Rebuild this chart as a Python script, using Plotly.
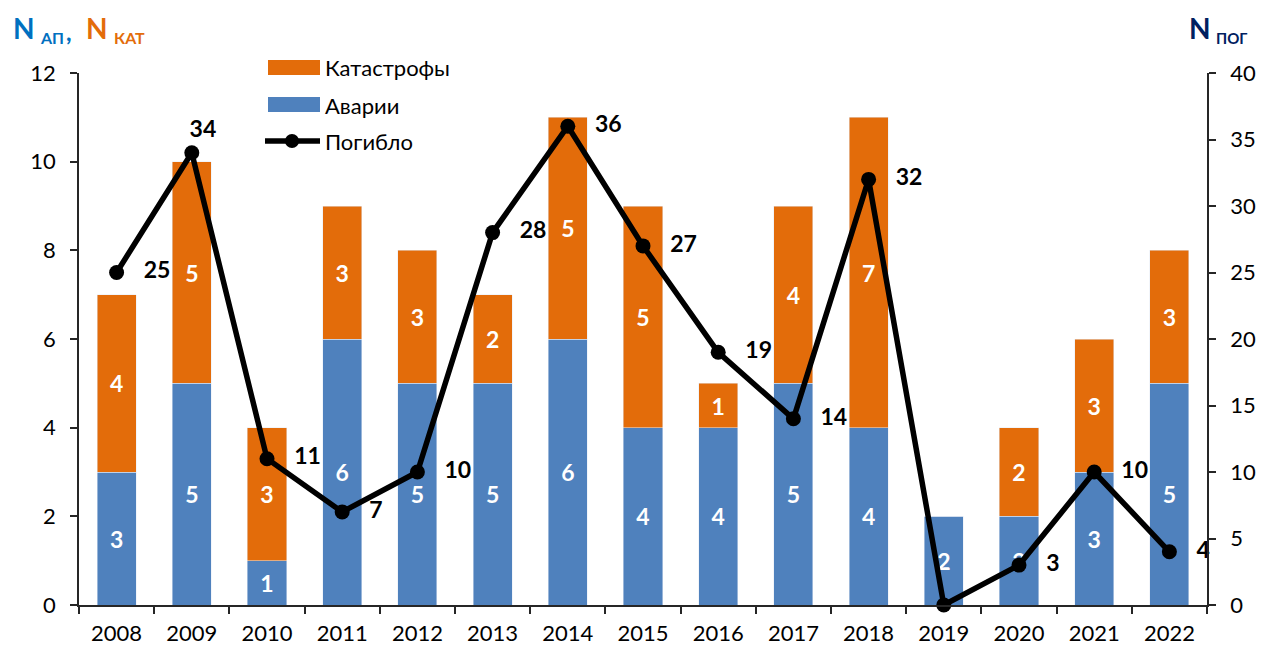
import plotly.graph_objects as go

years = ["2008","2009","2010","2011","2012","2013","2014","2015","2016","2017","2018","2019","2020","2021","2022"]
avarii = [3,5,1,6,5,5,6,4,4,5,4,2,2,3,5]
katastrofy = [4,5,3,3,3,2,5,5,1,4,7,0,2,3,3]
pogiblo = [25,34,11,7,10,28,36,27,19,14,32,0,3,10,4]

BLUE = "#4F81BD"
ORANGE = "#E36C0A"
FONT = "Lato, 'Open Sans', sans-serif"

# page has an 8px body margin
OFF = 8
W, H = 1248, 643
L, R, T, B = 71, 49, 65, 46
PW, PH = W - L - R, H - T - B


def px(x):  # page pixel -> paper
    return (x - OFF - L) / PW


def py(y):
    return (H - B - (y - OFF)) / PH


fig = go.Figure()
fig.add_trace(go.Bar(
    x=years, y=avarii, name="Аварии", marker_color=BLUE,
    text=[str(v) if v else "" for v in avarii], textposition="inside",
    insidetextanchor="middle", textangle=0,
    textfont=dict(color="white", size=23, family=FONT, weight="bold"),
    showlegend=False,
))
fig.add_trace(go.Bar(
    x=years, y=katastrofy, name="Катастрофы", marker_color=ORANGE,
    text=[str(v) if v else "" for v in katastrofy], textposition="inside",
    insidetextanchor="middle", textangle=0,
    textfont=dict(color="white", size=23, family=FONT, weight="bold"),
    showlegend=False,
))
positions = ["middle right"] * len(years)
positions[1] = "top center"
labels = [("" if v == 0 else "&nbsp;&nbsp;&nbsp;" + str(v)) for v in pogiblo]
labels[1] = "&nbsp;&nbsp;&nbsp;&nbsp;" + str(pogiblo[1])
fig.add_trace(go.Scatter(
    x=years, y=pogiblo, name="Погибло", yaxis="y2",
    mode="lines+markers+text",
    line=dict(color="black", width=5.5),
    marker=dict(color="black", size=15),
    text=labels,
    textposition=positions,
    textfont=dict(color="black", size=23, family=FONT, weight="bold"),
    cliponaxis=False,
    showlegend=False,
))

axis_common = dict(showline=True, linecolor="#262626", linewidth=1.5,
                   ticks="outside", ticklen=7, tickwidth=1.5, tickcolor="#262626",
                   showgrid=False, zeroline=False, tickfont=dict(size=22),
                   automargin=False)

fig.update_layout(
    width=W, height=H,
    barmode="stack", bargap=0.48,
    plot_bgcolor="white", paper_bgcolor="white",
    margin=dict(l=L, r=R, t=T, b=B),
    font=dict(family=FONT, size=22, color="black"),
    xaxis=dict(type="category", tickson="boundaries", range=[-0.5, len(years) - 0.5],
               ticklabelstandoff=8, **axis_common),
    yaxis=dict(range=[0, 12], dtick=2, ticklabelstandoff=10, **axis_common),
    yaxis2=dict(range=[0, 40], dtick=5, overlaying="y", side="right",
                ticklabelstandoff=10, **axis_common),
    showlegend=False,
)

# custom legend
fig.add_shape(type="rect", xref="paper", yref="paper",
              x0=px(268), x1=px(320), y0=py(75), y1=py(60),
              fillcolor=ORANGE, line_width=0)
fig.add_shape(type="rect", xref="paper", yref="paper",
              x0=px(268), x1=px(320), y0=py(112), y1=py(97),
              fillcolor=BLUE, line_width=0)
fig.add_shape(type="line", xref="paper", yref="paper",
              x0=px(265), x1=px(320), y0=py(141), y1=py(141),
              line=dict(color="black", width=5.5))
fig.add_shape(type="circle", xref="paper", yref="paper",
              x0=px(285), x1=px(299), y0=py(148), y1=py(134),
              fillcolor="black", line_width=0)
for label, yy in [("Катастрофы", 68), ("Аварии", 105), ("Погибло", 141)]:
    fig.add_annotation(xref="paper", yref="paper", x=px(323), y=py(yy),
                       xanchor="left", yanchor="middle", showarrow=False,
                       text=label, font=dict(size=22, color="black"))

# axis titles
BLUE_T = "#0070C0"
NAVY = "#002060"
titles = [
    ("N", 11, 28, 28, BLUE_T),
    ("АП", 38, 38, 16, BLUE_T),
    (",", 64, 32, 24, BLUE_T),
    ("N", 84, 28, 28, ORANGE),
    ("КАТ", 112, 38, 16, ORANGE),
    ("N", 1187, 28, 28, NAVY),
    ("ПОГ", 1214, 38, 15, NAVY),
]
for t, xx, yy, sz, col in titles:
    fig.add_annotation(xref="paper", yref="paper", x=px(xx), y=py(yy),
                       xanchor="left", yanchor="middle", showarrow=False,
                       text="<b>" + t + "</b>", font=dict(size=sz, color=col))

fig.write_html("out.html")
